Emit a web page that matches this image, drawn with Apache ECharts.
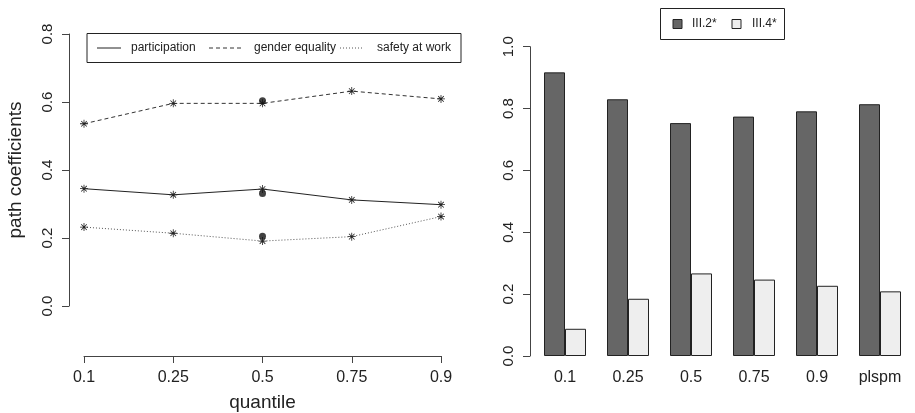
<!DOCTYPE html>
<html><head><meta charset="utf-8">
<script src="https://cdn.jsdelivr.net/npm/echarts@6/dist/echarts.min.js"></script>
<style>html,body{margin:0;padding:0;background:#fff}#c{width:915px;height:413px}</style>
</head><body><div id="c"></div>
<script>
// ---- data ----
const quantiles = ['0.1', '0.25', '0.5', '0.75', '0.9'];
const participation = [0.345, 0.327, 0.344, 0.312, 0.298];
const genderEquality = [0.536, 0.596, 0.596, 0.632, 0.609];
const safetyAtWork = [0.232, 0.214, 0.191, 0.204, 0.263];
const medianDots = [0.331, 0.604, 0.205];
const barCategories = ['0.1', '0.25', '0.5', '0.75', '0.9', 'plspm'];
const iii2 = [0.917, 0.830, 0.753, 0.774, 0.791, 0.814];
const iii4 = [0.088, 0.185, 0.267, 0.247, 0.227, 0.209];

const FF = "'Liberation Sans', Arial, Helvetica, sans-serif";
const TXT = '#222';
const AX = '#444';
const star = 'path://M0 4.5H10V5.5H0Z M4.5 0H5.5V10H4.5Z M1.15 1.85L1.85 1.15L8.85 8.15L8.15 8.85Z M8.15 1.15L8.85 1.85L1.85 8.85L1.15 8.15Z';

const chart = echarts.init(document.getElementById('c'), null, {renderer: 'canvas'});

function lineSeries(name, data, color, type) {
  return {
    name, type: 'line', xAxisIndex: 0, yAxisIndex: 0, data,
    symbol: star, symbolSize: 8, showSymbol: true,
    itemStyle: {color: '#222'},
    lineStyle: {color, width: 1, type},
    emphasis: {disabled: true}, animation: false, z: 3
  };
}

const option = {
  animation: false,
  backgroundColor: '#fff',
  textStyle: {fontFamily: FF},
  grid: [
    {left: 84, top: 34, width: 357, height: 272, containLabel: false, outerBoundsMode: 'none'},
    {left: 533.5, top: 46.7, width: 378, height: 309.3, containLabel: false, outerBoundsMode: 'none'}
  ],
  xAxis: [
    {gridIndex: 0, type: 'category', data: quantiles, boundaryGap: false, offset: 50,
     axisLine: {show: true, onZero: false, lineStyle: {color: AX, width: 1}},
     axisTick: {show: true, length: 7, lineStyle: {color: AX}},
     axisLabel: {margin: 14, fontSize: 16, color: TXT, fontFamily: FF},
     splitLine: {show: false},
     name: 'quantile', nameLocation: 'middle', nameGap: 37,
     nameTextStyle: {fontSize: 19, color: TXT, fontFamily: FF}},
    {gridIndex: 1, type: 'category', data: barCategories,
     axisLine: {show: false, onZero: false}, axisTick: {show: false},
     axisLabel: {margin: 14, fontSize: 16, color: TXT, fontFamily: FF},
     splitLine: {show: false}}
  ],
  yAxis: [
    {gridIndex: 0, type: 'value', min: 0, max: 0.8, interval: 0.2, offset: 15,
     axisLine: {show: true, lineStyle: {color: AX, width: 1}},
     axisTick: {show: true, length: 7, lineStyle: {color: AX}},
     splitLine: {show: false},
     axisLabel: {rotate: 90, margin: 14, fontSize: 15, color: TXT, fontFamily: FF,
                 formatter: v => v.toFixed(1)},
     name: 'path coefficients', nameLocation: 'middle', nameGap: 44, nameRotate: 90,
     nameTextStyle: {fontSize: 19, color: TXT, fontFamily: FF}},
    {gridIndex: 1, type: 'value', min: 0, max: 1, interval: 0.2, offset: 3.5,
     axisLine: {show: true, lineStyle: {color: AX, width: 1}},
     axisTick: {show: true, length: 7, lineStyle: {color: AX}},
     splitLine: {show: false},
     axisLabel: {rotate: 90, margin: 14, fontSize: 15, color: TXT, fontFamily: FF,
                 formatter: v => v.toFixed(1)}}
  ],
  series: [
    lineSeries('participation', participation, '#222', 'solid'),
    lineSeries('gender equality', genderEquality, '#333', [4, 3]),
    lineSeries('safety at work', safetyAtWork, '#555', [1, 2]),
    {name: 'plspm', type: 'scatter', xAxisIndex: 0, yAxisIndex: 0,
     data: medianDots.map(v => ['0.5', v]), symbol: 'circle', symbolSize: 7,
     itemStyle: {color: '#111'}, z: 4},
    {name: 'III.2*', type: 'bar', xAxisIndex: 1, yAxisIndex: 1, data: iii2,
     barWidth: 21, barGap: '0%',
     itemStyle: {color: '#666666', borderColor: '#222', borderWidth: 1}},
    {name: 'III.4*', type: 'bar', xAxisIndex: 1, yAxisIndex: 1, data: iii4,
     barWidth: 21, barGap: '0%',
     itemStyle: {color: '#eeeeee', borderColor: '#222', borderWidth: 1}}
  ],
  graphic: [
    // left legend
    {type: 'rect', shape: {x: 87, y: 33.5, width: 374, height: 29}, style: {fill: '#fff', stroke: '#222', lineWidth: 1}, z: 10},
    {type: 'line', shape: {x1: 97, y1: 48, x2: 121, y2: 48}, style: {stroke: '#222', lineWidth: 1}, z: 11},
    {type: 'text', x: 131, y: 48, style: {text: 'participation', font: '12px ' + FF, fill: TXT, verticalAlign: 'middle', align: 'left'}, z: 11},
    {type: 'line', shape: {x1: 209, y1: 48, x2: 241, y2: 48}, style: {stroke: '#333', lineWidth: 1, lineDash: [4, 3]}, z: 11},
    {type: 'text', x: 254, y: 48, style: {text: 'gender equality', font: '12px ' + FF, fill: TXT, verticalAlign: 'middle', align: 'left'}, z: 11},
    {type: 'line', shape: {x1: 340, y1: 48, x2: 364, y2: 48}, style: {stroke: '#555', lineWidth: 1, lineDash: [1, 2]}, z: 11},
    {type: 'text', x: 377, y: 48, style: {text: 'safety at work', font: '12px ' + FF, fill: TXT, verticalAlign: 'middle', align: 'left'}, z: 11},
    // right legend
    {type: 'rect', shape: {x: 660.5, y: 8.5, width: 124, height: 31}, style: {fill: '#fff', stroke: '#222', lineWidth: 1}, z: 10},
    {type: 'rect', shape: {x: 673, y: 19.5, width: 9, height: 9}, style: {fill: '#666666', stroke: '#222', lineWidth: 1}, z: 11},
    {type: 'text', x: 692, y: 24, style: {text: 'III.2*', font: '12px ' + FF, fill: TXT, verticalAlign: 'middle', align: 'left'}, z: 11},
    {type: 'rect', shape: {x: 732, y: 19.5, width: 9, height: 9}, style: {fill: '#eeeeee', stroke: '#222', lineWidth: 1}, z: 11},
    {type: 'text', x: 752, y: 24, style: {text: 'III.4*', font: '12px ' + FF, fill: TXT, verticalAlign: 'middle', align: 'left'}, z: 11}
  ]
};
chart.setOption(option);
</script>
</body></html>
